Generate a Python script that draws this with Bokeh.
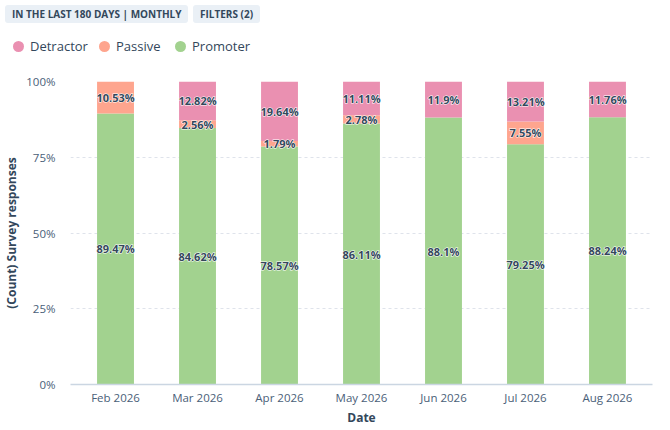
from bokeh.plotting import figure
from bokeh.models import ColumnDataSource, FactorRange, FixedTicker, NumeralTickFormatter, Div
from bokeh.layouts import column
from bokeh.core.properties import value
from bokeh.embed import file_html
from bokeh.resources import INLINE

months = ["Feb 2026", "Mar 2026", "Apr 2026", "May 2026", "Jun 2026", "Jul 2026", "Aug 2026"]
promoter = [89.47, 84.62, 78.57, 86.11, 88.1, 79.25, 88.24]
passive = [10.53, 2.56, 1.79, 2.78, 0, 7.55, 0]
detractor = [0, 12.82, 19.64, 11.11, 11.9, 13.21, 11.76]
y_ticks = [0, 0.25, 0.5, 0.75, 1]
series = ["Detractor", "Passive", "Promoter"]

FONT = "Open Sans"
DARK = "#33475b"
colors = {"Detractor": "#ea90b1", "Passive": "#fea58e", "Promoter": "#a2d28f"}

# fractions for stacking
src = ColumnDataSource(dict(
    month=months,
    Promoter=[v / 100 for v in promoter],
    Passive=[v / 100 for v in passive],
    Detractor=[v / 100 for v in detractor],
))

p = figure(x_range=FactorRange(*months, range_padding=0.014), y_range=(0, 1),
           width=654, height=363, output_backend="svg", toolbar_location=None,
           min_border_left=69, min_border_right=2, min_border_top=15, min_border_bottom=45)
p.outline_line_color = None

stack = ["Promoter", "Passive", "Detractor"]
p.vbar_stack(stack, x="month", width=0.45, source=src,
             color=[colors[s] for s in stack], line_color=None)

# segment labels at segment centres
lx, ly, lt = [], [], []
for i, m in enumerate(months):
    base = 0
    for vals in (promoter, passive, detractor):
        v = vals[i]
        if v > 0:
            lx.append(m)
            ly.append((base + v / 2) / 100)
            lt.append(f"{v:g}%")
        base += v
lab_src = ColumnDataSource(dict(x=lx, y=ly, t=lt))
# white halo first, dark text on top
for col, outline in (("white", "white"), (DARK, None)):
    p.text(x="x", y="y", text="t", source=lab_src,
           text_align="center", text_baseline="middle", text_font=value(FONT),
           text_font_size="11px", text_font_style="bold", text_color=col,
           text_outline_color=outline)

p.yaxis.ticker = FixedTicker(ticks=y_ticks)
p.yaxis.formatter = NumeralTickFormatter(format="0%")
p.yaxis.axis_line_color = None
p.yaxis.major_tick_out = 0
p.yaxis.major_tick_in = 0
p.yaxis.minor_tick_line_color = None
p.yaxis.major_label_standoff = 15
p.yaxis.axis_label = "(Count) Survey responses"
p.yaxis.axis_label_standoff = 3

p.xaxis.axis_line_color = "#cbd6e2"
p.xaxis.axis_line_width = 1.5
p.xaxis.major_tick_out = 0
p.xaxis.major_tick_in = 0
p.xaxis.major_label_standoff = 5
p.xaxis.axis_label = "Date"
p.xaxis.axis_label_standoff = 1

for ax in (p.xaxis, p.yaxis):
    ax.major_label_text_font = FONT
    ax.major_label_text_font_size = "11.5px"
    ax.major_label_text_color = "#4a6078"
    ax.axis_label_text_font = FONT
    ax.axis_label_text_font_size = "12px"
    ax.axis_label_text_font_style = "bold"
    ax.axis_label_text_color = DARK

p.xgrid.grid_line_color = None
p.ygrid.grid_line_color = "#dfe3eb"
p.ygrid.grid_line_dash = "3 3"

# header chips + legend as html above the plot
chip = ("position:absolute;top:0;background:#eaf0f6;padding:0 7px;border-radius:3px;"
        "height:18px;line-height:18px;white-space:nowrap;font-weight:700;font-size:10px")
html = [f"<div style=\"position:relative;width:654px;height:56px;font-family:'{FONT}';color:{DARK}\">",
        f"<span style='{chip};left:0'>IN THE LAST 180 DAYS | MONTHLY</span>",
        f"<span style='{chip};left:188px'>FILTERS (2)</span>"]
for name, left in zip(series, [8, 94, 170]):
    html.append(f"<span style='position:absolute;left:{left}px;top:32px;white-space:nowrap;"
                f"font-size:13px;line-height:18px'>"
                f"<span style='display:inline-block;width:11px;height:11px;border-radius:50%;"
                f"background:{colors[name]};margin-right:6px;vertical-align:-1px'></span>"
                f"{name}</span>")
html.append("</div>")
header = Div(text="".join(html), width=654, height=56)

layout = column(header, p, spacing=0)
open("out.html", "w").write(file_html(layout, INLINE))
